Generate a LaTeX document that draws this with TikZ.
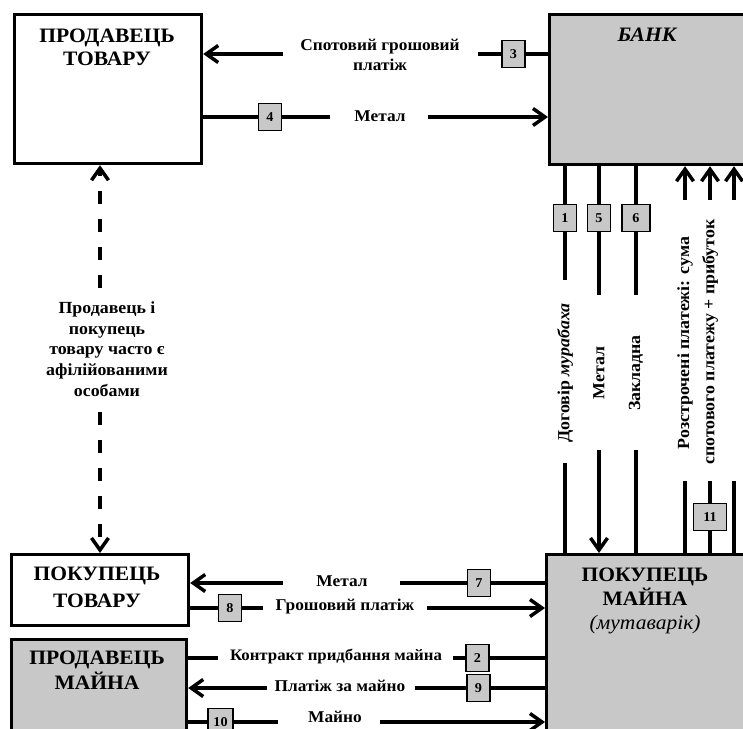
\documentclass[tikz,border=0pt]{standalone}
\usepackage{fontspec}
\setmainfont{Liberation Serif}[FakeStretch=1.05]
\usetikzlibrary{arrows.meta}
\definecolor{boxgray}{RGB}{200,200,200}
\tikzset{
 ln/.style={line width=3.5pt},
 arr/.style={ln, -{Straight Barb[length=12pt,width=17pt,line width=3.5pt]}},
 dasharr/.style={line width=4.5pt, dash pattern=on 13pt off 15pt, -{Straight Barb[length=12pt,width=17pt,line width=3.5pt]}},
 bigbox/.style={draw, line width=3.2pt, anchor=north west, inner sep=0pt},
 graybox/.style={bigbox, fill=boxgray},
 numbox/.style={draw, line width=1.5pt, fill=boxgray, inner sep=0pt, minimum width=23pt, minimum height=27pt, font=\fontsize{13.5}{15}\selectfont\bfseries},
 title/.style={align=center, inner sep=0pt, font=\fontsize{20.5}{24}\selectfont\bfseries},
 lbl/.style={align=center, inner sep=0pt, font=\fontsize{16.5}{20}\selectfont\bfseries},
 vlbl/.style={align=center, inner sep=0pt, rotate=90, font=\fontsize{17}{20}\selectfont\bfseries},
}
\begin{document}
\begin{tikzpicture}[x=1pt,y=-1pt]
\clip (0,0) rectangle (743,728);
% main boxes
\node[bigbox, minimum width=187pt, minimum height=149pt] (seller) at (13,13) {};
\node[graybox, minimum width=220pt, minimum height=150pt] (bank) at (548,13) {};
\node[graybox, minimum width=220pt, minimum height=200pt] (buyer) at (545,553) {};
\node[bigbox, minimum width=177pt, minimum height=71pt] (buyerG) at (10,553) {};
\node[graybox, minimum width=175pt, minimum height=120pt] (sellerP) at (10,638) {};
% titles
\node[title, font=\fontsize{20.5}{23}\selectfont\bfseries] (sellerT) at (107,47) {ПРОДАВЕЦЬ\\ТОВАРУ};
\node[title, font=\fontsize{20.5}{24}\selectfont\bfseries\itshape] (bankT) at (647,35) {БАНК};
\node[title] (buyerT) at (645,601) {ПОКУПЕЦЬ\\МАЙНА\\{\mdseries\itshape (мутаварік)}};
\node[title, font=\fontsize{20.5}{27}\selectfont\bfseries] (buyerGT) at (97,587) {ПОКУПЕЦЬ\\ТОВАРУ};
\node[title, font=\fontsize{20.5}{25}\selectfont\bfseries] (sellerPT) at (97,670) {ПРОДАВЕЦЬ\\МАЙНА};
% number boxes
\node[numbox] (n3) at (513.5,54) {3};
\node[numbox] (n4) at (270,117) {4};
\node[numbox] (n1) at (565,218) {1};
\node[numbox] (n5) at (599,218) {5};
\node[numbox, minimum width=28pt] (n6) at (636,218) {6};
\node[numbox, minimum width=33pt] (n11) at (710,517) {11};
\node[numbox] (n7) at (479,583) {7};
\node[numbox] (n8) at (230,608) {8};
\node[numbox] (n2) at (477.5,658) {2};
\node[numbox] (n9) at (478.5,688) {9};
\node[numbox, minimum width=25pt] (n10) at (220.5,722) {10};
% top connectors
\coordinate (c3a) at (283,54);
\coordinate (c3b) at (478,54);
\draw[arr] (c3a) -- (seller.east |- c3a);
\draw[ln] (c3b) -- (n3) -- (bank.west |- n3);
\node[lbl] (l3) at (380,55) {Спотовий грошовий\\платіж};
\coordinate (c4a) at (330,117);
\coordinate (c4b) at (428,117);
\draw[ln] (seller.east |- n4) -- (n4) -- (c4a);
\node[lbl] (l4) at (380,116) {Метал};
\draw[arr] (c4b) -- (bank.west |- c4b);
% vertical connectors bank -> buyer
\coordinate (v1a) at (565,280); \coordinate (v1b) at (565,463);
\draw[ln] (bank.south -| n1) -- (n1) -- (v1a);
\node[vlbl] (l1) at (565,373) {Договір {\itshape мурабаха}};
\draw[ln] (v1b) -- (buyer.north -| v1b);
\coordinate (v5a) at (599,295); \coordinate (v5b) at (599,450);
\draw[ln] (bank.south -| n5) -- (n5) -- (v5a);
\node[vlbl] (l5) at (599,373) {Метал};
\draw[arr] (v5b) -- (buyer.north -| v5b);
\coordinate (v6a) at (636,295); \coordinate (v6b) at (636,450);
\draw[ln] (bank.south -| n6) -- (n6) -- (v6a);
\node[vlbl] (l6) at (636,373) {Закладна};
\draw[ln] (v6b) -- (buyer.north -| v6b);
% instalments
\coordinate (r1) at (685,200); \coordinate (r2) at (710,200); \coordinate (r3) at (734,200);
\draw[arr] (r1) -- (bank.south -| r1);
\draw[arr] (r2) -- (bank.south -| r2);
\draw[arr] (r3) -- (bank.south -| r3);
\node[vlbl] (l11a) at (685,343) {Розстрочені платежі: сума};
\node[vlbl] (l11b) at (710,342) {спотового платежу + прибуток};
\coordinate (s1) at (685,481); \coordinate (s2) at (710,481); \coordinate (s3) at (734,481);
\draw[ln] (s1) -- (buyer.north -| s1);
\draw[ln] (s2) -- (n11) -- (buyer.north -| s2);
\draw[ln] (s3) -- (buyer.north -| s3);
% dashed affiliation
\coordinate (d1) at (100,288); \coordinate (d2) at (100,412);
\draw[dasharr] (d1) -- (seller.south -| d1);
\draw[dasharr] (d2) -- (buyerG.north -| d2);
\node[lbl, font=\fontsize{17}{20.7}\selectfont\bfseries] (ld) at (107,349) {Продавець і\\покупець\\товару часто є\\афілійованими\\особами};
% bottom connectors
\coordinate (b7a) at (283,583); \coordinate (b7b) at (400,583);
\draw[arr] (b7a) -- (buyerG.east |- b7a);
\draw[ln] (b7b) -- (n7) -- (buyer.west |- n7);
\node[lbl] (l7) at (342,581) {Метал};
\coordinate (b8a) at (263,608); \coordinate (b8b) at (427,608);
\draw[ln] (buyerG.east |- n8) -- (n8) -- (b8a);
\node[lbl] (l8) at (345,607) {Грошовий платіж};
\draw[arr] (b8b) -- (buyer.west |- b8b);
\coordinate (b2a) at (218,658); \coordinate (b2b) at (453,658);
\draw[ln] (sellerP.east |- b2a) -- (b2a);
\node[lbl, font=\fontsize{16}{20}\selectfont\bfseries] (l2) at (336,656) {Контракт придбання майна};
\draw[ln] (b2b) -- (n2) -- (buyer.west |- n2);
\coordinate (b9a) at (267,688); \coordinate (b9b) at (415,688);
\draw[arr] (b9a) -- (sellerP.east |- b9a);
\node[lbl] (l9) at (340,686) {Платіж за майно};
\draw[ln] (b9b) -- (n9) -- (buyer.west |- n9);
\coordinate (b10a) at (278,722); \coordinate (b10b) at (380,722);
\draw[ln] (sellerP.east |- n10) -- (n10) -- (b10a);
\node[lbl] (l10) at (335,717) {Майно};
\draw[arr] (b10b) -- (buyer.west |- b10b);
\end{tikzpicture}
\end{document}
